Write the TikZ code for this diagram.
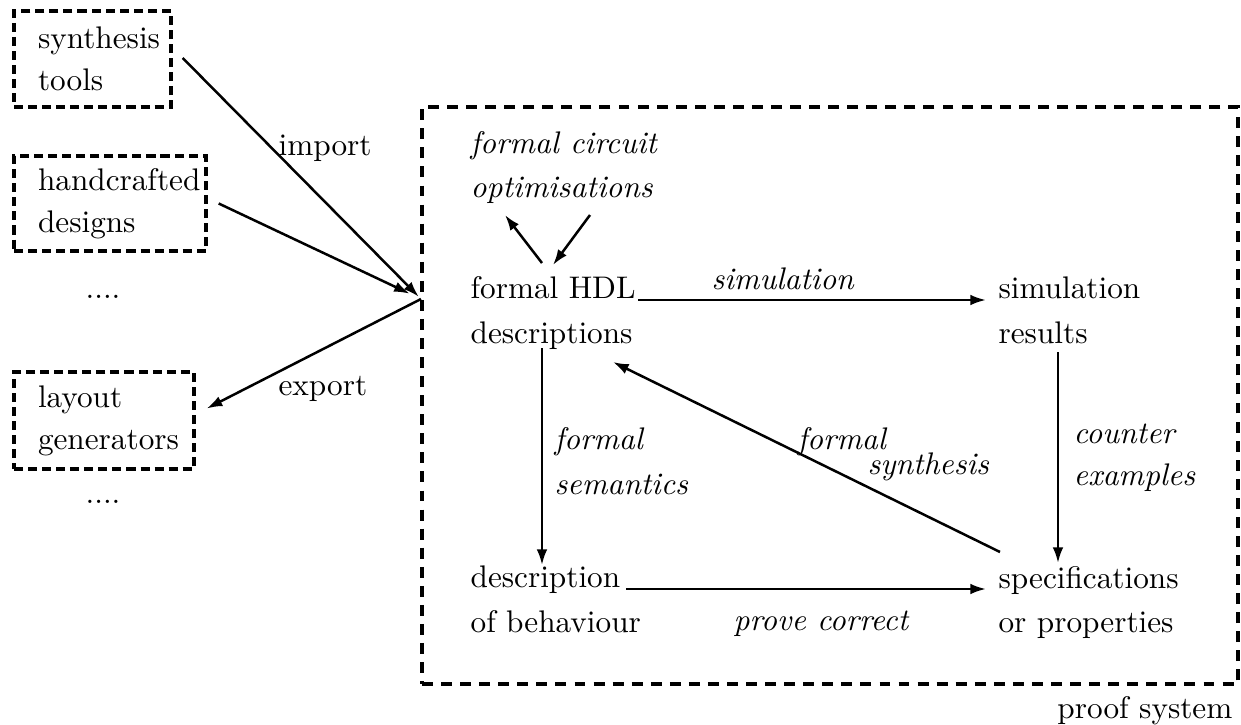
\documentclass[tikz,border=0pt]{standalone}
\usetikzlibrary{arrows.meta,calc}
\newcommand\twoline[3]{\vtop{\lineskiplimit=-100pt\baselineskip=#1\relax\hbox{#2}\hbox{#3}}}
\begin{document}
\begin{tikzpicture}[x=0.32pt,y=-0.32pt,
  font=\fontsize{10}{12}\selectfont,
  txt/.style={inner sep=0pt, anchor=base west},
  lbl/.style={inner sep=0pt, anchor=base west, font=\fontsize{10}{12}\selectfont\itshape},
  srcbox/.style={draw, line width=1.1pt, dash pattern=on 2.9pt off 1.6pt,
    inner xsep=7.68pt, inner ysep=0pt},
  sysbox/.style={draw, line width=1.1pt, dash pattern=on 3.5pt off 2.6pt, inner sep=0pt},
  arr/.style={line width=0.8pt, -{Latex[length=5pt,width=3.4pt]}}]
\useasboundingbox (0,0) rectangle (1241,725);

% source boxes
\node[srcbox, minimum height=30.72pt] (synth) at (92.5,59)
  {\makebox[34.88pt][l]{\twoline{13.44pt}{synthesis}{tools}}};
\node[srcbox, minimum height=30.4pt] (hand) at (110,203.5)
  {\makebox[46.08pt][l]{\twoline{13.44pt}{handcrafted}{designs}}};
\node[srcbox, minimum height=31.04pt] (layout) at (104,420.5)
  {\makebox[42.24pt][l]{\twoline{13.44pt}{layout}{generators}}};
\node[inner sep=0pt, anchor=base] (dots1) at (103,298) {....};
\node[inner sep=0pt, anchor=base] (dots2) at (103,503) {....};

% proof system
\node[sysbox, minimum width=261.12pt, minimum height=184.64pt] (proof) at (830,395.5) {};
\node[inner sep=0pt, anchor=base east] (prooflbl) at (1233,718) {proof system};
\coordinate (hub) at (421,299);

% inner nodes
\node[lbl] (circ) at (470,153) {\twoline{14.1pt}{formal circuit}{optimisations}};
\node[txt] (hdl) at (470,298) {\twoline{14.4pt}{formal HDL}{descriptions}};
\node[txt] (simres) at (998,298) {\twoline{14.4pt}{simulation}{results}};
\node[txt] (beh) at (470,587) {\twoline{14.4pt}{description}{of behaviour}};
\node[txt] (spec) at (998,588) {\twoline{14.1pt}{specifications}{or properties}};

% labels
\node[txt] (implbl) at (278,155) {import};
\node[txt] (explbl) at (278,395) {export};
\node[lbl] (simlbl) at (711,289) {simulation};
\node[lbl] (provelbl) at (733,630) {prove correct};
\node[lbl] (semlbl) at (554,449) {\twoline{14.4pt}{formal}{semantics}};
\node[lbl] (cexlbl) at (1073,443) {\twoline{13.44pt}{counter}{examples}};
\node[lbl] (synlbl) at (797,449) {\twoline{8pt}{formal}{\hspace*{22.4pt}synthesis}};

% connectors
\draw[arr, shorten >=1pt] ($(synth.east)+(10,-1)$) -- (hub);
\draw[arr, shorten >=4pt] ($(hand.east)+(11,0)$) -- (hub);
\draw[arr] (hub) -- ($(layout.east)+(11,-12)$);

\draw[arr] ($(hdl.base west)+(72,-35)$) -- ($(circ.base west)+(35,62)$);
\draw[arr] ($(circ.base west)+(120,62)$) -- ($(hdl.base west)+(83,-33)$);
\draw[arr] ($(hdl.base west)+(168,2)$) -- ($(simres.base west)+(-12,2)$);
\draw[arr] ($(hdl.base west)+(72,50)$) -- ($(beh.base west)+(72,-22)$);
\draw[arr] ($(simres.base west)+(60,54)$) -- ($(spec.base west)+(60,-25)$);
\draw[arr] ($(beh.base west)+(156,2)$) -- ($(spec.base west)+(-12,1)$);
\draw[arr] ($(spec.base west)+(2,-36)$) -- ($(hdl.base west)+(143,64)$);
\end{tikzpicture}
\end{document}
